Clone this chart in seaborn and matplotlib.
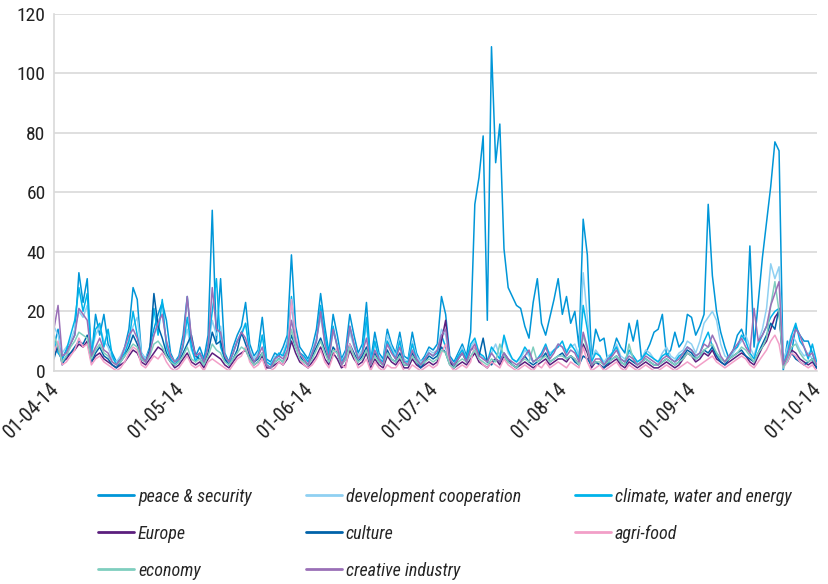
import os
import numpy as np
import pandas as pd
import matplotlib
matplotlib.use('Agg')
import matplotlib.pyplot as plt
import matplotlib.dates as mdates
import matplotlib.transforms as mtransforms
from matplotlib import font_manager as fm
import seaborn as sns

sns.set_style('white')

# the original uses a narrow humanist face; take a condensed one if there is one
def pick_font():
    tries = [('Liberation Sans Narrow', 'normal'), ('Roboto Condensed', 'normal'),
             ('DejaVu Sans', 'condensed'), ('Roboto', 'condensed'),
             ('Noto Sans', 'condensed'), ('Open Sans', 'condensed')]
    for fam, stretch in tries:
        try:
            path = fm.findfont(fm.FontProperties(family=fam, stretch=stretch),
                               fallback_to_default=False)
        except ValueError:
            continue
        name = os.path.basename(path).lower()
        if stretch == 'normal' and 'narrow' in name or 'cond' in name:
            return fam, stretch, True
    return 'DejaVu Sans', 'normal', False

fam, stretch, narrow = pick_font()
plt.rcParams['font.family'] = [fam, 'DejaVu Sans']
plt.rcParams['font.stretch'] = stretch
fsize = 13 if narrow else 11

# daily counts, 1 April 2014 .. 1 October 2014 (per month: Apr, May, Jun, Jul, Aug, Sep, Oct 1)
peace = [8, 14, 4, 7, 9, 12, 33, 23, 31, 4, 19, 12, 19, 9, 6, 3, 4, 8, 14, 28, 24, 6, 4, 8, 14, 19, 23, 17, 6, 3] + \
        [5, 12, 25, 10, 5, 8, 4, 12, 54, 10, 31, 6, 3, 8, 12, 15, 23, 9, 5, 7, 18, 4, 3, 6, 5, 8, 12, 39, 15, 8, 6] + \
        [4, 8, 14, 26, 15, 6, 19, 12, 4, 7, 19, 12, 6, 9, 23, 3, 13, 6, 4, 14, 9, 6, 13, 5, 4, 13, 6, 3, 5, 8] + \
        [7, 9, 25, 19, 5, 3, 6, 9, 5, 13, 56, 65, 79, 17, 109, 70, 83, 41, 28, 25, 22, 21, 15, 11, 23, 31, 16, 12, 18, 24, 31] + \
        [19, 25, 16, 20, 8, 51, 39, 4, 14, 10, 11, 2, 6, 11, 8, 6, 16, 10, 17, 4, 6, 9, 13, 14, 19, 5, 7, 13, 8, 10, 19] + \
        [18, 12, 15, 19, 56, 32, 20, 13, 8, 4, 7, 12, 14, 10, 42, 8, 23, 38, 50, 62, 77, 74, 0, 10, 6, 15, 12, 10, 10, 6] + [1]

development = [15, 12, 6, 8, 10, 14, 20, 18, 22, 6, 12, 15, 10, 8, 4, 3, 5, 8, 10, 15, 18, 6, 4, 7, 12, 17, 19, 10, 5, 3] + \
              [4, 9, 14, 7, 4, 5, 3, 8, 17, 12, 15, 5, 2, 6, 10, 13, 16, 7, 4, 6, 12, 3, 2, 5, 4, 6, 10, 22, 10, 6, 5] + \
              [3, 7, 11, 18, 10, 5, 13, 9, 3, 6, 13, 8, 5, 7, 15, 3, 9, 5, 3, 12, 8, 5, 11, 4, 3, 10, 5, 3, 4, 7] + \
              [6, 7, 14, 12, 3, 2, 5, 8, 4, 8, 10, 6, 4, 3, 6, 9, 5, 11, 6, 4, 3, 4, 7, 5, 3, 4, 5, 8, 6, 7, 9] + \
              [8, 7, 8, 9, 5, 33, 18, 4, 7, 5, 3, 5, 6, 9, 5, 4, 6, 5, 3, 4, 7, 6, 4, 3, 6, 8, 5, 4, 6, 7, 10] + \
              [9, 6, 10, 16, 18, 20, 17, 9, 5, 4, 6, 8, 10, 12, 8, 5, 10, 14, 21, 36, 31, 35, 3, 8, 12, 10, 7, 5, 6, 4] + [2]

climate = [10, 6, 4, 7, 12, 17, 28, 20, 26, 6, 14, 16, 8, 14, 5, 2, 4, 6, 10, 20, 12, 5, 3, 6, 21, 12, 24, 8, 4, 2] + \
          [4, 8, 18, 8, 3, 6, 3, 9, 20, 31, 8, 4, 2, 6, 10, 12, 16, 6, 3, 5, 12, 3, 2, 4, 6, 5, 9, 25, 11, 6, 5] + \
          [3, 6, 10, 22, 12, 5, 15, 8, 3, 5, 15, 9, 4, 6, 18, 2, 10, 4, 3, 10, 7, 4, 10, 3, 3, 9, 4, 2, 4, 6] + \
          [5, 6, 12, 8, 3, 2, 5, 7, 4, 9, 11, 6, 5, 3, 8, 6, 4, 12, 7, 4, 3, 5, 8, 6, 3, 4, 6, 9, 5, 7, 8] + \
          [10, 6, 9, 7, 4, 22, 14, 3, 6, 5, 2, 4, 6, 8, 4, 3, 7, 5, 3, 4, 6, 5, 4, 3, 5, 6, 4, 3, 5, 6, 8] + \
          [7, 5, 6, 10, 13, 8, 6, 4, 3, 5, 7, 8, 12, 10, 6, 4, 9, 12, 15, 18, 20, 21, 2, 6, 12, 16, 10, 8, 4, 9] + [3]

europe = [5, 8, 3, 4, 6, 7, 9, 8, 10, 3, 5, 6, 4, 3, 2, 1, 2, 3, 5, 7, 6, 3, 2, 4, 6, 8, 7, 5, 3, 1] + \
         [2, 4, 6, 3, 2, 3, 1, 4, 6, 5, 4, 2, 1, 3, 5, 6, 7, 4, 2, 3, 5, 1, 1, 2, 3, 2, 4, 10, 6, 3, 2] + \
         [1, 3, 5, 8, 4, 2, 6, 4, 1, 2, 7, 4, 2, 3, 6, 1, 4, 2, 1, 5, 3, 2, 4, 1, 1, 4, 2, 1, 2, 3] + \
         [2, 3, 10, 17, 3, 1, 2, 3, 2, 4, 6, 3, 2, 1, 3, 4, 2, 5, 3, 2, 1, 2, 3, 2, 1, 2, 3, 4, 2, 3, 4] + \
         [4, 3, 5, 4, 2, 9, 6, 1, 3, 2, 1, 2, 3, 4, 2, 1, 3, 2, 1, 2, 3, 2, 1, 1, 2, 3, 2, 1, 2, 4, 6] + \
         [5, 3, 4, 6, 5, 7, 4, 3, 2, 3, 4, 5, 6, 5, 3, 2, 5, 8, 10, 14, 18, 20, 2, 4, 7, 6, 4, 3, 2, 3] + [1]

culture = [4, 9, 2, 5, 6, 8, 10, 9, 12, 3, 6, 8, 5, 4, 2, 1, 3, 5, 8, 12, 9, 4, 3, 7, 26, 15, 11, 6, 3, 2] + \
          [3, 6, 9, 12, 5, 4, 2, 6, 13, 9, 10, 4, 2, 4, 7, 13, 9, 5, 3, 4, 6, 2, 1, 3, 4, 3, 6, 12, 8, 5, 3] + \
          [2, 5, 8, 11, 7, 3, 8, 6, 2, 4, 9, 6, 3, 5, 8, 2, 6, 3, 2, 7, 4, 3, 6, 2, 2, 6, 3, 1, 3, 5] + \
          [4, 5, 8, 6, 2, 1, 4, 6, 3, 7, 8, 5, 11, 3, 2, 4, 3, 6, 4, 2, 1, 3, 5, 3, 2, 3, 4, 6, 3, 4, 5] + \
          [6, 4, 5, 3, 2, 5, 4, 2, 3, 2, 1, 3, 4, 5, 3, 2, 4, 3, 2, 3, 4, 3, 2, 2, 3, 4, 3, 2, 3, 5, 7] + \
          [6, 4, 5, 7, 6, 8, 5, 3, 2, 4, 5, 6, 7, 5, 4, 3, 6, 9, 12, 16, 14, 21, 2, 3, 6, 4, 3, 2, 3, 4] + [1]

agrifood = [6, 10, 2, 3, 5, 7, 11, 8, 9, 2, 4, 5, 3, 2, 1, 0, 1, 3, 6, 8, 7, 2, 1, 3, 5, 4, 6, 3, 1, 0] + \
           [1, 3, 5, 2, 1, 2, 0, 3, 4, 3, 2, 1, 0, 2, 4, 5, 8, 3, 1, 2, 4, 0, 0, 1, 3, 2, 5, 24, 12, 4, 2] + \
           [1, 2, 4, 7, 3, 1, 5, 8, 2, 1, 9, 5, 1, 2, 4, 0, 3, 1, 0, 2, 1, 1, 3, 0, 0, 2, 1, 0, 1, 2] + \
           [1, 2, 6, 9, 2, 0, 1, 2, 1, 3, 9, 4, 2, 1, 3, 2, 1, 4, 2, 1, 0, 1, 2, 1, 0, 2, 1, 3, 1, 2, 3] + \
           [2, 1, 3, 2, 1, 8, 3, 0, 1, 2, 0, 1, 2, 3, 1, 0, 2, 1, 0, 1, 2, 1, 0, 0, 1, 2, 1, 0, 1, 2, 3] + \
           [2, 1, 2, 3, 4, 5, 3, 2, 1, 2, 3, 4, 5, 4, 2, 1, 3, 5, 7, 10, 12, 9, 1, 3, 6, 5, 3, 2, 1, 2] + [0]

economy = [12, 8, 3, 5, 8, 10, 13, 12, 11, 4, 7, 9, 6, 5, 3, 2, 3, 5, 7, 9, 8, 4, 3, 5, 9, 10, 8, 5, 3, 2] + \
          [3, 5, 8, 4, 3, 4, 2, 5, 9, 7, 6, 3, 2, 4, 6, 8, 7, 4, 2, 3, 6, 2, 1, 3, 4, 3, 6, 14, 8, 4, 3] + \
          [2, 4, 7, 10, 6, 3, 7, 6, 2, 4, 8, 5, 3, 4, 7, 2, 5, 3, 2, 6, 4, 3, 5, 2, 2, 5, 3, 2, 3, 4] + \
          [3, 4, 7, 6, 2, 1, 3, 4, 3, 5, 7, 4, 3, 2, 4, 3, 9, 5, 3, 2, 1, 3, 4, 3, 8, 3, 4, 5, 3, 4, 5] + \
          [5, 4, 5, 4, 2, 12, 7, 2, 3, 3, 2, 3, 4, 5, 3, 2, 9, 4, 2, 3, 4, 3, 2, 2, 3, 4, 3, 2, 3, 4, 6] + \
          [5, 4, 5, 7, 8, 9, 6, 4, 3, 4, 5, 6, 8, 7, 5, 3, 6, 8, 11, 22, 30, 20, 1, 4, 8, 9, 6, 4, 3, 4] + [2]

creative = [14, 22, 5, 6, 9, 12, 21, 19, 17, 5, 8, 11, 7, 6, 3, 2, 4, 8, 12, 14, 11, 5, 3, 6, 12, 16, 19, 10, 5, 3] + \
           [4, 9, 25, 11, 5, 6, 3, 8, 28, 14, 13, 5, 3, 6, 10, 13, 11, 6, 3, 5, 8, 2, 1, 4, 5, 4, 7, 17, 10, 6, 4] + \
           [2, 6, 10, 20, 9, 4, 14, 8, 2, 5, 15, 9, 4, 6, 11, 2, 7, 4, 2, 9, 6, 4, 8, 3, 2, 7, 4, 2, 4, 6] + \
           [5, 7, 12, 14, 4, 2, 4, 6, 3, 7, 9, 5, 4, 3, 6, 4, 3, 6, 4, 3, 2, 3, 5, 7, 3, 4, 5, 8, 4, 6, 9] + \
           [8, 5, 7, 6, 3, 13, 8, 2, 4, 4, 2, 4, 5, 7, 4, 3, 5, 4, 2, 3, 5, 4, 3, 2, 4, 5, 4, 3, 4, 6, 8] + \
           [7, 5, 6, 9, 8, 12, 9, 5, 3, 5, 7, 9, 11, 8, 6, 21, 10, 12, 15, 22, 26, 30, 2, 5, 10, 14, 12, 8, 5, 6] + [2]

labels = ['peace & security', 'development cooperation', 'climate, water and energy',
          'Europe', 'culture', 'agri-food', 'economy', 'creative industry']
colors = ['#0096D8', '#8FD0F2', '#00B3EA', '#5B1E7D', '#0062A9', '#F29FC8', '#7FCEBF', '#9A70B7']

dates = pd.date_range('2014-04-01', '2014-10-01', freq='D')
series = [peace, development, climate, europe, culture, agrifood, economy, creative]
for s in series:
    assert len(s) == len(dates), len(s)

df = pd.DataFrame({'date': np.tile(dates, len(series)),
                   'count': np.concatenate(series),
                   'topic': np.repeat(labels, len(dates))})

fig = plt.figure(figsize=(8.29, 5.84), dpi=100)
ax = fig.add_axes([0.065, 0.365, 0.92, 0.611])

sns.lineplot(data=df, x='date', y='count', hue='topic', hue_order=labels,
             palette=colors, linewidth=1.1, ax=ax, legend=False)

ax.set_ylim(0, 120)
ax.set_yticks(range(0, 121, 20))
ax.set_xlim(dates[0], dates[-1])
ax.xaxis.set_major_locator(mdates.MonthLocator())
ax.xaxis.set_major_formatter(mdates.DateFormatter('%d-%m-%y'))
ax.set_xlabel('')
ax.set_ylabel('')
ax.grid(axis='y', color='#D9D9D9', linewidth=1.2)
ax.set_axisbelow(True)
for side in ['top', 'right']:
    ax.spines[side].set_visible(False)
for side in ['left', 'bottom']:
    ax.spines[side].set_color('#D9D9D9')
    ax.spines[side].set_linewidth(1.2)
ax.tick_params(axis='y', length=0, labelsize=fsize + 1, colors='#222222', pad=6)
ax.tick_params(axis='x', length=5, color='#D9D9D9', labelsize=fsize + 1.5, colors='#222222', pad=2)

# rotated date labels end just right of / below their tick
shift = mtransforms.ScaledTranslation(2 / 100, -5 / 100, fig.dpi_scale_trans)
for t in ax.get_xticklabels():
    t.set_rotation(45)
    t.set_ha('right')
    t.set_va('center')
    t.set_rotation_mode('anchor')
    t.set_transform(t.get_transform() + shift)

# legend laid out row by row like the original (3 columns)
handles = [plt.Line2D([], [], color=c, linewidth=2) for c in colors]
order = [0, 3, 6, 1, 4, 7, 2, 5]
fig.legend([handles[i] for i in order], [labels[i] for i in order],
           ncol=3, loc='upper left', bbox_to_anchor=(0.099, 0.193),
           frameon=False, handlelength=2.0, handletextpad=0.2,
           columnspacing=3.0, labelspacing=1.06,
           prop={'size': fsize, 'style': 'italic'})

fig.savefig('out.png', dpi=100)
